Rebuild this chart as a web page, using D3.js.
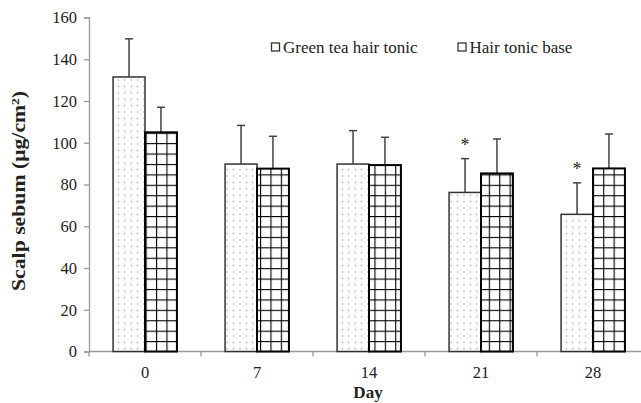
<!DOCTYPE html>
<html><head><meta charset="utf-8">
<script src="https://cdn.jsdelivr.net/npm/d3@7"></script>
<style>body{margin:0;background:#fff}svg{display:block}text{font-family:"Liberation Serif","Times New Roman",serif}</style>
</head><body>
<svg id="c" width="641" height="403"></svg>
<script>
const days = ["0","7","14","21","28"];
const seriesNames = ["Green tea hair tonic","Hair tonic base"];
const greenTea = [131.5, 89.8, 89.8, 76.2, 65.7];
const greenTeaErr = [18.3, 18.5, 16.0, 16.2, 15.1];
const tonicBase = [105.0, 87.6, 89.3, 85.3, 87.7];
const tonicBaseErr = [12.0, 15.5, 13.3, 16.5, 16.5];
const significant = [false, false, false, true, true];
const yTicks = [0,20,40,60,80,100,120,140,160];

const FONT = "Liberation Serif";
const svg = d3.select("#c");
const W = 641, H = 403;
const x0 = 89, x1 = 649, yTop = 17.5, yBot = 351.5;
const x = d3.scaleBand().domain(days).range([x0, x1]).paddingInner(0).paddingOuter(0);
const y = d3.scaleLinear().domain([0,160]).range([yBot, yTop]);
const inner = d3.scaleBand().domain([0,1]).range([x.bandwidth()*0.215, x.bandwidth()*0.785]);

const defs = svg.append("defs");
const dots = defs.append("pattern").attr("id","dots").attr("patternUnits","userSpaceOnUse")
  .attr("width",6.4).attr("height",6.4).attr("x",0).attr("y",0);
dots.append("rect").attr("width",6.4).attr("height",6.4).attr("fill","#fff");
dots.append("circle").attr("cx",3.2).attr("cy",3.2).attr("r",0.7).attr("fill","#888");

const grid = defs.append("pattern").attr("id","grid").attr("patternUnits","userSpaceOnUse")
  .attr("width",10.4).attr("height",10.42).attr("y", yBot);
grid.append("rect").attr("width",10.4).attr("height",10.42).attr("fill","#fff");
grid.append("line").attr("x1",0).attr("x2",10.4).attr("y1",0).attr("y2",0).attr("stroke","#000").attr("stroke-width",2.2);
grid.append("line").attr("x1",0).attr("x2",0).attr("y1",0).attr("y2",10.42).attr("stroke","#000").attr("stroke-width",2.2);

// axes
const ya = svg.append("g").attr("transform",`translate(${x0},0)`)
  .call(d3.axisLeft(y).tickValues(yTicks).tickSize(5).tickPadding(7));
ya.attr("font-family",FONT).attr("font-size",16.5);
ya.select(".domain").attr("stroke","#999").attr("stroke-width",1.3);
ya.selectAll(".tick line").attr("stroke","#999").attr("stroke-width",1.3);
ya.selectAll("text").attr("fill","#222");

const xa = svg.append("g").attr("transform",`translate(0,${yBot})`).attr("font-family",FONT);
xa.append("line").attr("x1",x0).attr("x2",W).attr("y1",0).attr("y2",0).attr("stroke","#999").attr("stroke-width",1.3);
xa.selectAll("line.tk").data(days).enter().append("line").attr("class","tk")
  .attr("x1",d=>x(d)).attr("x2",d=>x(d)).attr("y1",0).attr("y2",5).attr("stroke","#999").attr("stroke-width",1.3);
xa.selectAll("text").data(days).enter().append("text")
  .attr("x",d=>x(d)+x.bandwidth()/2).attr("y",26).attr("text-anchor","middle")
  .attr("font-size",16.5).attr("fill","#222").text(d=>d);

const data = [greenTea, tonicBase];
const errs = [greenTeaErr, tonicBaseErr];
const fills = ["url(#dots)","url(#grid)"];
const strokes = [["#333",1.5],["#000",2]];

data.forEach((vals, s) => {
  const g = svg.append("g");
  g.selectAll("line.err").data(vals).enter().append("line")
    .attr("x1",(d,i)=>x(days[i])+inner(s)+inner.bandwidth()/2)
    .attr("x2",(d,i)=>x(days[i])+inner(s)+inner.bandwidth()/2)
    .attr("y1",d=>y(d)).attr("y2",(d,i)=>y(d+errs[s][i]))
    .attr("stroke","#444").attr("stroke-width",1.5);
  g.selectAll("line.cap").data(vals).enter().append("line")
    .attr("x1",(d,i)=>x(days[i])+inner(s)+inner.bandwidth()/2-4)
    .attr("x2",(d,i)=>x(days[i])+inner(s)+inner.bandwidth()/2+4)
    .attr("y1",(d,i)=>y(d+errs[s][i])).attr("y2",(d,i)=>y(d+errs[s][i]))
    .attr("stroke","#444").attr("stroke-width",1.5);
  g.selectAll("rect").data(vals).enter().append("rect")
    .attr("x",(d,i)=>x(days[i])+inner(s)).attr("width",inner.bandwidth())
    .attr("y",d=>y(d)).attr("height",d=>yBot-y(d))
    .attr("fill",fills[s]).attr("stroke",strokes[s][0]).attr("stroke-width",strokes[s][1]);
});

// significance asterisks
days.forEach((dname,i)=>{
  if(!significant[i]) return;
  svg.append("text").attr("class","star").attr("font-family",FONT)
    .attr("x",x(dname)+inner(0)+inner.bandwidth()/2)
    .attr("y",y(greenTea[i]+greenTeaErr[i])-8)
    .attr("text-anchor","middle").attr("font-size",18).attr("fill","#222").text("*");
});

// legend
const lg = svg.append("g").attr("font-family",FONT);
const lx = [271.5, 458];
seriesNames.forEach((n,i)=>{
  lg.append("rect").attr("x",lx[i]).attr("y",43).attr("width",8).attr("height",8)
    .attr("fill","#fff").attr("stroke","#333").attr("stroke-width",1.3);
  lg.append("text").attr("x",lx[i]+11.5).attr("y",52.5).attr("font-size",17).attr("fill","#222").text(n);
});

// axis titles
svg.append("text").attr("font-family",FONT).attr("transform","translate(25,191) rotate(-90)").attr("text-anchor","middle")
  .attr("font-size",18).attr("font-weight","bold").attr("fill","#222")
  .attr("textLength",200).attr("lengthAdjust","spacingAndGlyphs")
  .html('Scalp sebum (μg/cm<tspan dy="-6" font-size="11">2</tspan><tspan dy="6">)</tspan>');
svg.append("text").attr("font-family",FONT).attr("x",368).attr("y",398).attr("text-anchor","middle")
  .attr("font-size",17).attr("font-weight","bold").attr("fill","#222").text("Day");
</script>
</body></html>
